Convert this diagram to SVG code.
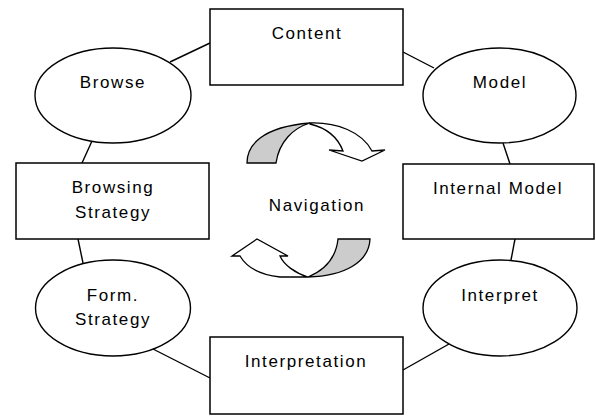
<svg xmlns="http://www.w3.org/2000/svg" width="596" height="416" viewBox="0 0 596 416">
<style>
.box{fill:#fff;stroke:#000;stroke-width:1.5}
.ell{fill:#fff;stroke:#000;stroke-width:1.4}
.lbl{font-family:"Liberation Sans",Arial,sans-serif;font-size:17px;letter-spacing:1.6px;fill:#000;text-anchor:middle}
.con{stroke:#000;stroke-width:1.4;fill:none}
.arw{stroke:#000;stroke-width:1.3;stroke-linejoin:miter}
</style>
<rect width="596" height="416" fill="#fff"/>
<g id="connectors">
<line class="con" x1="210" y1="43" x2="170" y2="62"/>
<line class="con" x1="403" y1="52" x2="434" y2="68"/>
<line class="con" x1="92" y1="141" x2="82" y2="163"/>
<line class="con" x1="503" y1="143" x2="510" y2="164"/>
<line class="con" x1="78" y1="239" x2="83" y2="263"/>
<line class="con" x1="515" y1="239" x2="511" y2="260"/>
<line class="con" x1="153" y1="349" x2="210" y2="378"/>
<line class="con" x1="449" y1="344" x2="403" y2="370"/>
</g>
<g id="content"><rect class="box" x="210" y="9" width="193" height="76"/><text class="lbl" x="307" y="39">Content</text></g>
<g id="browse"><ellipse class="ell" cx="113" cy="95.5" rx="78" ry="47.5"/><text class="lbl" x="113" y="88">Browse</text></g>
<g id="model"><ellipse class="ell" cx="499.5" cy="95.5" rx="76.5" ry="47.5"/><text class="lbl" x="500" y="88">Model</text></g>
<g id="browsing-strategy"><rect class="box" x="16" y="163" width="193" height="76"/><text class="lbl" x="113" y="193">Browsing</text><text class="lbl" x="113" y="218">Strategy</text></g>
<g id="internal-model"><rect class="box" x="403" y="164" width="191" height="75"/><text class="lbl" x="498" y="194">Internal Model</text></g>
<g id="form-strategy"><ellipse class="ell" cx="113" cy="308" rx="77.5" ry="48"/><text class="lbl" x="113" y="301">Form.</text><text class="lbl" x="113" y="325">Strategy</text></g>
<g id="interpret"><ellipse class="ell" cx="500" cy="308" rx="77" ry="48"/><text class="lbl" x="500" y="301">Interpret</text></g>
<g id="interpretation"><rect class="box" x="210" y="337" width="193" height="77"/><text class="lbl" x="306" y="367">Interpretation</text></g>
<g id="navigation">
<path class="arw" fill="#ccc" d="M247,163 C247,145 262,127 310,123 C293,128 279,142 276,163 Z"/>
<path class="arw" fill="#fff" d="M310,123 C337,122 362,132 372,151 L385,150 L362,161 L329,150 L343,151 C338,138 327,128 310,124 Z"/>
<path class="arw" fill="#ccc" d="M338,239 L370,239 C369,262 345,276 308,277 C325,270 336,258 338,239 Z"/>
<path class="arw" fill="#fff" d="M308,277 L280,277 C262,275 247,268 240,256 L232,256 L257,239 L288,256 L280,256 C284,265 295,273 308,277 Z"/>
<text class="lbl" x="317" y="211">Navigation</text>
</g>
</svg>
